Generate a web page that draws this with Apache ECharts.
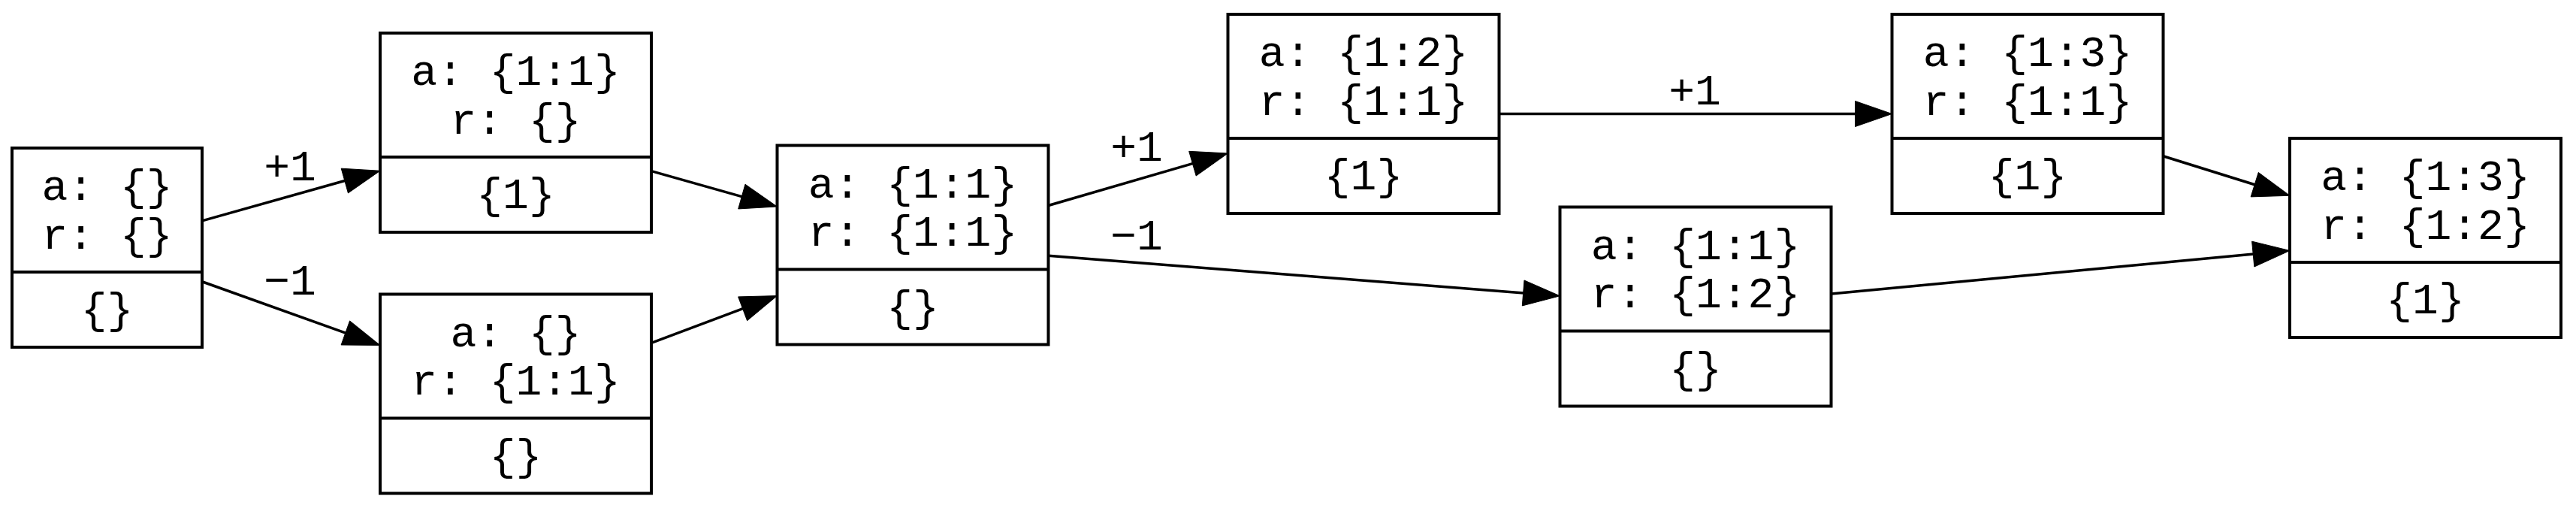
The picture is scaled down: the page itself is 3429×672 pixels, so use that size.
<!DOCTYPE html>
<html>
<head>
<meta charset="utf-8">
<title>state graph</title>
<script src="https://cdn.jsdelivr.net/npm/echarts@6/dist/echarts.min.js"></script>
<style>
html, body { margin: 0; padding: 0; background: #fff; }
#main { width: 3429px; height: 672px; }
</style>
</head>
<body>
<div id="main"></div>
<script>
// record nodes: "a" map, "r" map, and the set under the divider
var aText = ['a: {}', 'a: {1:1}', 'a: {}', 'a: {1:1}', 'a: {1:2}', 'a: {1:1}', 'a: {1:3}', 'a: {1:3}'];
var rText = ['r: {}', 'r: {}', 'r: {1:1}', 'r: {1:1}', 'r: {1:1}', 'r: {1:2}', 'r: {1:1}', 'r: {1:2}'];
var setText = ['{}', '{1}', '{}', '{}', '{1}', '{}', '{1}', '{1}'];

// node centres from the dot layout (layout units)
var nodeX = [142.5, 686.5, 686.5, 1215, 1815, 2257, 2699, 3228.5];
var nodeY = [329.5, 176.5, 524, 326, 151.5, 408, 151.5, 316.5];

// edges
var edgeFrom = [0, 0, 1, 2, 3, 3, 4, 6, 5];
var edgeTo   = [1, 2, 3, 3, 4, 5, 6, 7, 7];
var edgeText = ['+1', '\u22121', '', '', '+1', '\u22121', '+1', '', ''];
var labelX   = [386, 386, 0, 0, 1513, 1513, 2256, 0, 0];
var labelY   = [225, 377, 0, 0, 199, 317, 124, 0, 0];

var FONT = '"Courier New", "Liberation Mono", monospace';
var FS = 58;
var NODE_H = 265;
var CHAR_W = 36, PAD = 73;
var ARROW_LEN = 49, ARROW_HALF = 17;

function nodeW(i) {
  var n = Math.max(aText[i].length, rText[i].length, setText[i].length);
  return n * CHAR_W + PAD;
}

function txt(s, x, y) {
  return {
    type: 'text',
    style: { text: s, x: x, y: y, align: 'center', verticalAlign: 'middle',
             fontFamily: FONT, fontSize: FS, fill: '#000' }
  };
}

function renderNode(params, api) {
  var i = api.value(2);
  var c = api.coord([api.value(0), api.value(1)]);
  var s = api.size([nodeW(i), NODE_H]);
  var w = s[0], h = s[1];
  var x0 = c[0] - w / 2, y0 = c[1] - h / 2;
  var div = y0 + h * 0.623;
  return {
    type: 'group',
    children: [
      { type: 'rect', shape: { x: x0, y: y0, width: w, height: h },
        style: { fill: '#fff', stroke: '#000', lineWidth: 4 } },
      { type: 'line', shape: { x1: x0, y1: div, x2: x0 + w, y2: div },
        style: { stroke: '#000', lineWidth: 4 } },
      txt(aText[i], c[0], y0 + h * 0.203),
      txt(rText[i], c[0], y0 + h * 0.447),
      txt(setText[i], c[0], y0 + h * 0.822)
    ]
  };
}

function renderEdge(params, api) {
  var k = api.value(2);
  var a = edgeFrom[k], b = edgeTo[k];
  var ca = api.coord([nodeX[a], nodeY[a]]);
  var cb = api.coord([nodeX[b], nodeY[b]]);
  var wa = api.size([nodeW(a), 0])[0];
  var wb = api.size([nodeW(b), 0])[0];
  var slope = (cb[1] - ca[1]) / (cb[0] - ca[0]);
  var sx = ca[0] + wa / 2, ex = cb[0] - wb / 2;
  var sy = ca[1] + slope * (sx - ca[0]);
  var ey = ca[1] + slope * (ex - ca[0]);
  var len = Math.sqrt((ex - sx) * (ex - sx) + (ey - sy) * (ey - sy));
  var ux = (ex - sx) / len, uy = (ey - sy) / len;
  var bx = ex - ux * ARROW_LEN, by = ey - uy * ARROW_LEN;
  var px = -uy * ARROW_HALF, py = ux * ARROW_HALF;
  var children = [
    { type: 'line', shape: { x1: sx, y1: sy, x2: bx + ux, y2: by + uy },
      style: { stroke: '#000', lineWidth: 3.5 } },
    { type: 'polygon', shape: { points: [[ex, ey], [bx + px, by + py], [bx - px, by - py]] },
      style: { fill: '#000', stroke: '#000', lineWidth: 1 } }
  ];
  if (edgeText[k]) {
    var p = api.coord([labelX[k], labelY[k]]);
    children.push(txt(edgeText[k], p[0], p[1]));
  }
  return { type: 'group', children: children };
}

var nodeData = nodeX.map(function (x, i) { return [x, nodeY[i], i]; });
var edgeData = edgeFrom.map(function (f, k) { return [nodeX[f], nodeY[f], k]; });

var chart = echarts.init(document.getElementById('main'));
chart.setOption({
  animation: false,
  backgroundColor: '#fff',
  grid: { left: 0, right: 0, top: 0, bottom: 0 },
  xAxis: { type: 'value', min: 0, max: 3429, show: false },
  yAxis: { type: 'value', min: 0, max: 672, inverse: true, show: false },
  series: [
    { type: 'custom', name: 'edges', z: 1, clip: false, renderItem: renderEdge,
      encode: { x: 0, y: 1 }, data: edgeData },
    { type: 'custom', name: 'nodes', z: 2, clip: false, renderItem: renderNode,
      encode: { x: 0, y: 1 }, data: nodeData }
  ]
});
</script>
</body>
</html>
